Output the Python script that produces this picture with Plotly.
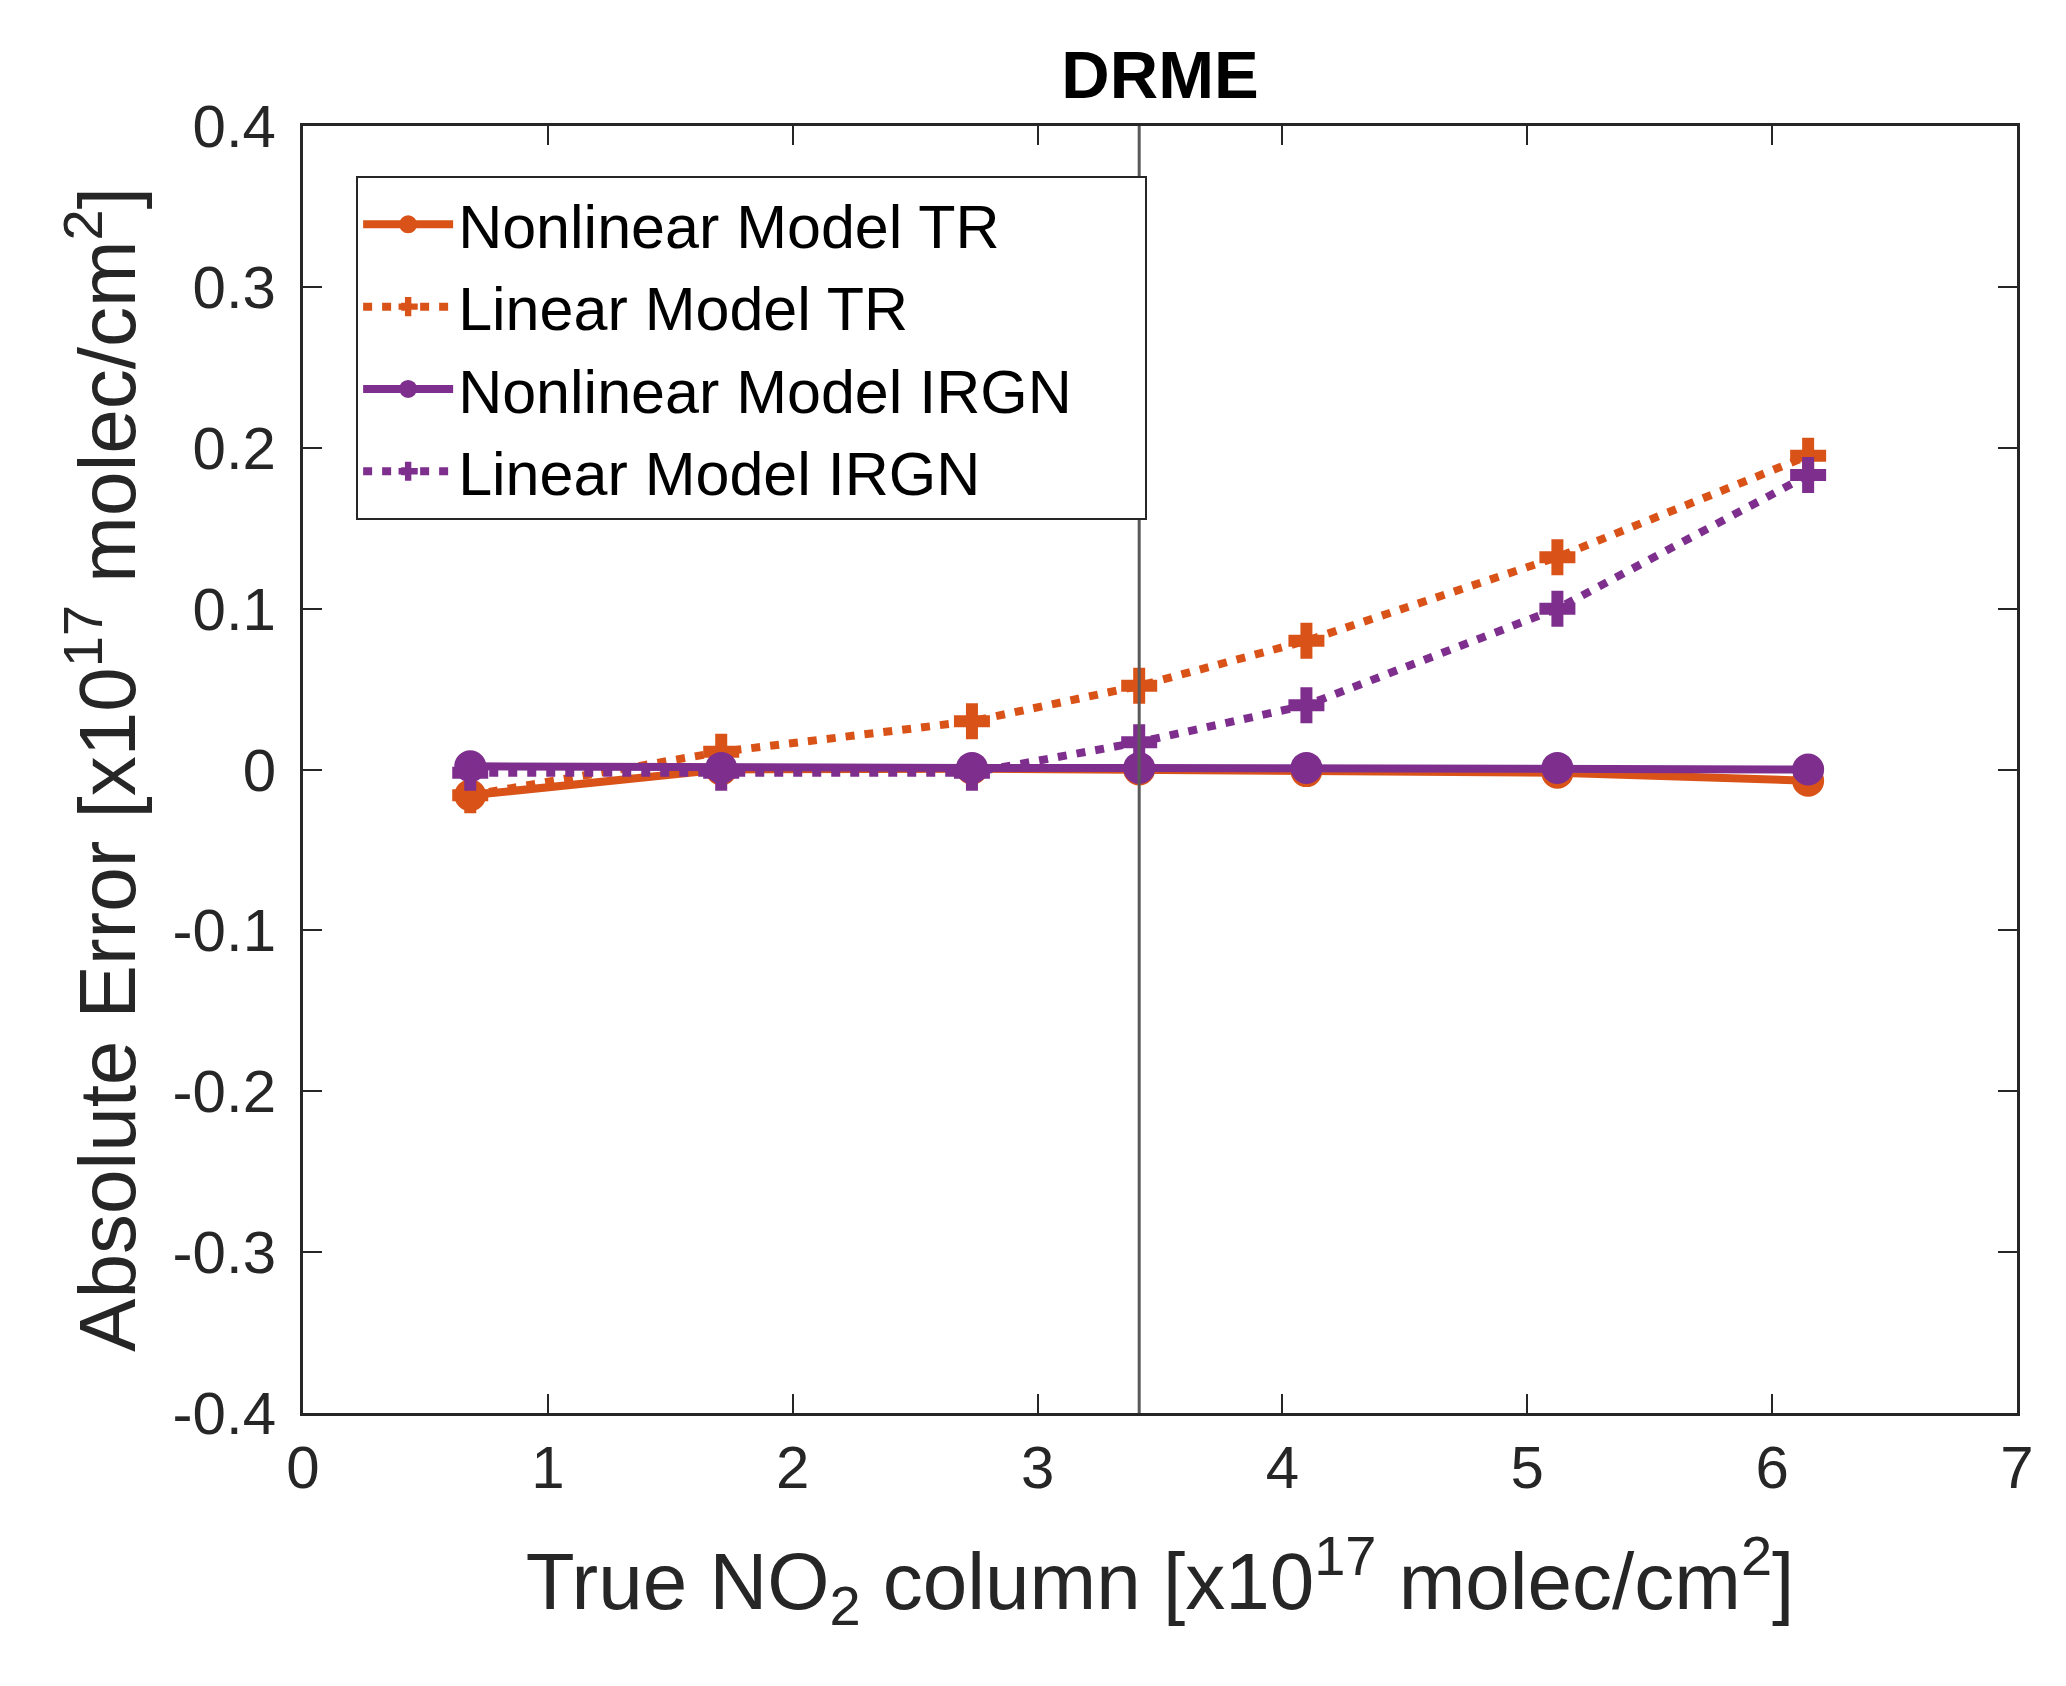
import plotly.graph_objects as go

# true NO2 column [x1e17 molec/cm2]
true_no2 = [0.683, 1.708, 2.732, 3.415, 4.098, 5.123, 6.147]

# absolute error [x1e17 molec/cm2]
nonlin_tr = [-0.016, 0.0, 0.0005, 0.0, -0.001, -0.002, -0.007]
lin_tr = [-0.016, 0.011, 0.030, 0.052, 0.080, 0.132, 0.195]
nonlin_irgn = [0.002, 0.001, 0.001, 0.001, 0.001, 0.001, 0.0]
lin_irgn = [-0.002, -0.002, -0.002, 0.017, 0.040, 0.100, 0.183]

vline_x = 3.415

y_ticks = [-0.4, -0.3, -0.2, -0.1, 0, 0.1, 0.2, 0.3, 0.4]
y_ticktext = ["-0.4", "-0.3", "-0.2", "-0.1", "0", "0.1", "0.2", "0.3", "0.4"]
x_ticks = [0, 1, 2, 3, 4, 5, 6, 7]

orange = "#D95319"
purple = "#7E2F8E"
axis_color = "#262626"
font_family = "Liberation Sans, Arial, Helvetica, sans-serif"
dot_dash = "9px,10px"
pad = "\u00a0" * 4  # right padding inside the legend box

series = [
    ("Nonlinear Model TR", nonlin_tr, orange, "solid", "circle"),
    ("Linear Model TR", lin_tr, orange, dot_dash, "cross"),
    ("Nonlinear Model IRGN" + pad, nonlin_irgn, purple, "solid", "circle"),
    ("Linear Model IRGN", lin_irgn, purple, dot_dash, "cross"),
]

fig = go.Figure()
for name, vals, color, dash, symbol in series:
    if symbol == "circle":
        marker = dict(symbol="circle", size=30, color=color,
                      line=dict(color=color, width=2))
    else:
        marker = dict(symbol="cross", size=30, color=color,
                      line=dict(width=0))
    fig.add_trace(go.Scatter(
        x=true_no2,
        y=vals,
        name=name,
        mode="lines+markers",
        line=dict(color=color, width=8, dash=dash),
        marker=marker,
    ))

fig.add_vline(x=vline_x, line=dict(color="#5a5a5a", width=3))

# page has an 8px body margin, so the figure is 16px smaller than the window
fig.update_layout(
    width=2050,
    height=1670,
    margin=dict(l=295, r=41, t=118, b=265),
    plot_bgcolor="white",
    paper_bgcolor="white",
    font=dict(family=font_family, color=axis_color),
    title=dict(
        text="<b>DRME</b>",
        x=0.5, xref="paper", xanchor="center",
        y=0.96, yref="container", yanchor="middle",
        font=dict(size=67, color="black", family=font_family),
    ),
    showlegend=True,
    legend=dict(
        x=0.031, y=0.961, xanchor="left", yanchor="top",
        bgcolor="white",
        bordercolor=axis_color,
        borderwidth=2,
        font=dict(size=61, color="black", family=font_family),
        itemwidth=90,
        tracegroupgap=0,
    ),
    xaxis=dict(
        range=[0, 7],
        tickvals=x_ticks,
        ticks="inside",
        ticklen=19,
        tickwidth=2,
        tickcolor=axis_color,
        showline=True,
        linecolor=axis_color,
        linewidth=3,
        mirror="ticks",
        showgrid=False,
        zeroline=False,
        tickfont=dict(size=60, color=axis_color),
        title=dict(
            text="True NO<sub>2</sub> column [x10<sup>17</sup> molec/cm<sup>2</sup>]",
            font=dict(size=80, color=axis_color),
            standoff=53,
        ),
    ),
    yaxis=dict(
        range=[-0.4, 0.4],
        tickvals=y_ticks,
        ticktext=y_ticktext,
        ticks="inside",
        ticklen=19,
        tickwidth=2,
        tickcolor=axis_color,
        showline=True,
        linecolor=axis_color,
        linewidth=3,
        mirror="ticks",
        showgrid=False,
        zeroline=False,
        ticklabelstandoff=12,
        tickfont=dict(size=60, color=axis_color),
        title=dict(
            text="Absolute Error [x10<sup>17</sup> molec/cm<sup>2</sup>]",
            font=dict(size=80, color=axis_color),
            standoff=11,
        ),
    ),
)

fig.write_html("out.html")
